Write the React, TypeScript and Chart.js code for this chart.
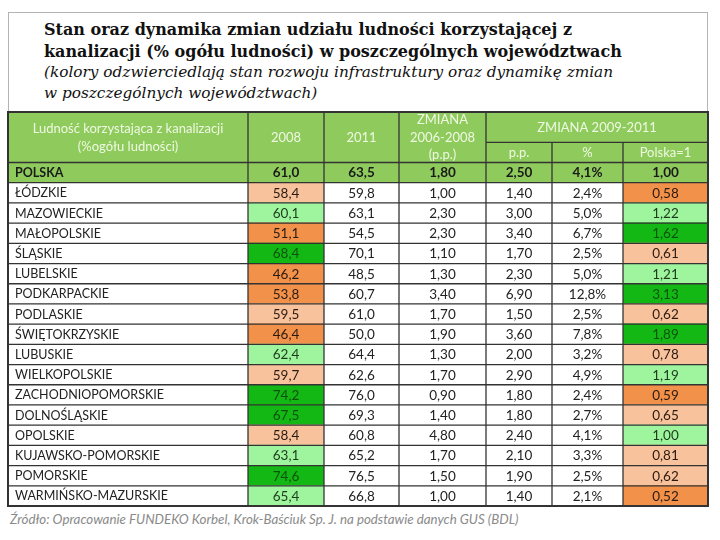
import React, { useEffect, useRef } from 'react';
import { Chart, registerables } from 'chart.js';

Chart.register(...registerables);

// ---------- data ----------
const regions = [
  'POLSKA', 'ŁÓDZKIE', 'MAZOWIECKIE', 'MAŁOPOLSKIE', 'ŚLĄSKIE', 'LUBELSKIE', 'PODKARPACKIE',
  'PODLASKIE', 'ŚWIĘTOKRZYSKIE', 'LUBUSKIE', 'WIELKOPOLSKIE', 'ZACHODNIOPOMORSKIE',
  'DOLNOŚLĄSKIE', 'OPOLSKIE', 'KUJAWSKO-POMORSKIE', 'POMORSKIE', 'WARMIŃSKO-MAZURSKIE',
];
const share2008 = [61.0, 58.4, 60.1, 51.1, 68.4, 46.2, 53.8, 59.5, 46.4, 62.4, 59.7, 74.2, 67.5, 58.4, 63.1, 74.6, 65.4];
const share2011 = [63.5, 59.8, 63.1, 54.5, 70.1, 48.5, 60.7, 61.0, 50.0, 64.4, 62.6, 76.0, 69.3, 60.8, 65.2, 76.5, 66.8];
const change0608pp = [1.8, 1.0, 2.3, 2.3, 1.1, 1.3, 3.4, 1.7, 1.9, 1.3, 1.7, 0.9, 1.4, 4.8, 1.7, 1.5, 1.0];
const change0911pp = [2.5, 1.4, 3.0, 3.4, 1.7, 2.3, 6.9, 1.5, 3.6, 2.0, 2.9, 1.8, 1.8, 2.4, 2.1, 1.9, 1.4];
const change0911pct = [4.1, 2.4, 5.0, 6.7, 2.5, 5.0, 12.8, 2.5, 7.8, 3.2, 4.9, 2.4, 2.7, 4.1, 3.3, 2.5, 2.1];
const polskaIndex = [1.0, 0.58, 1.22, 1.62, 0.61, 1.21, 3.13, 0.62, 1.89, 0.78, 1.19, 0.59, 0.65, 1.0, 0.81, 0.62, 0.52];
// colour classes: base = national row, o = orange, p = peach, l = light green, g = green
const class2008 = ['base', 'p', 'l', 'o', 'g', 'o', 'o', 'p', 'o', 'l', 'p', 'g', 'g', 'p', 'l', 'g', 'l'];
const classIndex = ['base', 'o', 'l', 'g', 'p', 'l', 'g', 'p', 'g', 'p', 'l', 'o', 'p', 'l', 'p', 'p', 'o'];

const headFirst = ['Ludność korzystająca z kanalizacji', '(%ogółu ludności)'];
const head2008 = ['2008'];
const head2011 = ['2011'];
const headChange0608 = ['ZMIANA', '2006-2008', '(p.p.)'];
const headChange0911 = ['ZMIANA 2009-2011'];
const subHeads = ['p.p.', '%', 'Polska=1'];
const sourceText = 'Źródło: Opracowanie FUNDEKO Korbel, Krok-Baściuk Sp. J. na podstawie danych GUS (BDL)';

// ---------- styles ----------
const colWidths = [240, 76, 75, 87, 66, 71, 85];
const HEADER_GREEN = '#8fcb5c';
const FILL: Record<string, string> = {
  base: HEADER_GREEN, o: '#f2914a', p: '#f8c29c', l: '#9ef59e', g: '#14b814', w: '#ffffff',
};
const TEXT_ON: Record<string, string> = {
  base: '#1a1a1a', o: '#2a1a10', p: '#2a1a10', l: '#1d3b1d', g: '#0c520c', w: '#222222',
};
const FONT = 'Lato, "Open Sans", sans-serif';

const fmt = (v: number, d: number) => v.toFixed(d).replace('.', ',');

type Cell = {
  c0: number; c1: number; s0: number; s1: number; bg: string;
  lines: string[]; color: string; font: string; align: 'left' | 'center';
};

const HEADER_SLOTS = 5; // top header 3 slots, sub header 2 slots
const ROW_SLOTS = 2;

function buildCells(): Cell[] {
  const cells: Cell[] = [];
  const hFont = `13px ${FONT}`;
  const hColor = '#eef8e2';
  const head = (c0: number, c1: number, s0: number, s1: number, lines: string[]) =>
    cells.push({ c0, c1, s0, s1, bg: HEADER_GREEN, lines, color: hColor, font: hFont, align: 'center' });
  head(0, 1, 0, 5, headFirst);
  head(1, 2, 0, 5, head2008);
  head(2, 3, 0, 5, head2011);
  head(3, 4, 0, 5, headChange0608);
  head(4, 7, 0, 3, headChange0911);
  subHeads.forEach((t, i) => head(4 + i, 5 + i, 3, 5, [t]));

  regions.forEach((name, r) => {
    const s0 = HEADER_SLOTS + r * ROW_SLOTS;
    const s1 = s0 + ROW_SLOTS;
    const isBase = r === 0;
    const nameFont = isBase ? `bold 12.5px ${FONT}` : `12.5px ${FONT}`;
    const numFont = isBase ? `bold 13.5px ${FONT}` : `13.5px ${FONT}`;
    const rowCls = isBase ? 'base' : 'w';
    const values: [string, string][] = [
      [name, rowCls],
      [fmt(share2008[r], 1), isBase ? 'base' : class2008[r]],
      [fmt(share2011[r], 1), rowCls],
      [fmt(change0608pp[r], 2), rowCls],
      [fmt(change0911pp[r], 2), rowCls],
      [fmt(change0911pct[r], 1) + '%', rowCls],
      [fmt(polskaIndex[r], 2), isBase ? 'base' : classIndex[r]],
    ];
    values.forEach(([txt, cls], c) => {
      cells.push({
        c0: c, c1: c + 1, s0, s1, bg: FILL[cls], lines: [txt], color: TEXT_ON[cls],
        font: c === 0 ? nameFont : numFont,
        align: c === 0 ? 'left' : 'center',
      });
    });
  });
  return cells;
}

export default function App() {
  const ref = useRef<HTMLCanvasElement | null>(null);

  useEffect(() => {
    document.body.style.margin = '0';
    const colX = [0];
    colWidths.forEach((w) => colX.push(colX[colX.length - 1] + w));
    const cells = buildCells();
    const totalSlots = HEADER_SLOTS + regions.length * ROW_SLOTS;
    const slotLabels = Array.from({ length: totalSlots }, (_, i) => `s${i}`);

    const data: { x: [number, number]; y: string }[] = [];
    const colors: string[] = [];
    cells.forEach((cell) => {
      for (let s = cell.s0; s < cell.s1; s++) {
        data.push({ x: [colX[cell.c0], colX[cell.c1]], y: slotLabels[s] });
        colors.push(cell.bg);
      }
    });

    const gridPlugin = {
      id: 'tableGrid',
      afterDatasetsDraw(chart: any) {
        const { ctx } = chart;
        const xs = chart.scales.x;
        const ys = chart.scales.y;
        const px = (u: number) => xs.getPixelForValue(u);
        const yb = (k: number) => ys.getPixelForValue(k - 0.5);
        ctx.save();
        ctx.strokeStyle = '#333333';
        ctx.lineWidth = 1.3;
        const hLine = (k: number, u0: number, u1: number) => {
          ctx.beginPath(); ctx.moveTo(px(u0), yb(k)); ctx.lineTo(px(u1), yb(k)); ctx.stroke();
        };
        const vLine = (u: number, k0: number, k1: number) => {
          ctx.beginPath(); ctx.moveTo(px(u), yb(k0)); ctx.lineTo(px(u), yb(k1)); ctx.stroke();
        };
        for (let r = 0; r <= regions.length; r++) {
          hLine(HEADER_SLOTS + r * ROW_SLOTS, colX[0], colX[colX.length - 1]);
        }
        hLine(3, colX[4], colX[7]);
        for (let c = 1; c < colX.length - 1; c++) {
          const top = c >= 5 ? 3 : 0;
          vLine(colX[c], top, totalSlots);
        }
        ctx.lineWidth = 2;
        ctx.strokeRect(px(colX[0]), yb(0), px(colX[7]) - px(colX[0]), yb(totalSlots) - yb(0));

        ctx.textBaseline = 'middle';
        cells.forEach((cell) => {
          ctx.font = cell.font;
          ctx.fillStyle = cell.color;
          const yTop = yb(cell.s0);
          const yBot = yb(cell.s1);
          const lh = 17.5;
          const n = cell.lines.length;
          const yc = (yTop + yBot) / 2;
          cell.lines.forEach((line, i) => {
            const y = yc + (i - (n - 1) / 2) * lh + 0.5;
            if (cell.align === 'left') {
              ctx.textAlign = 'left';
              ctx.fillText(line, px(colX[cell.c0]) + 7, y);
            } else {
              ctx.textAlign = 'center';
              ctx.fillText(line, (px(colX[cell.c0]) + px(colX[cell.c1])) / 2, y);
            }
          });
        });
        ctx.restore();
      },
    };

    const chart = new Chart(ref.current as HTMLCanvasElement, {
      type: 'bar',
      data: {
        labels: slotLabels,
        datasets: [{
          data: data as any,
          backgroundColor: colors,
          borderWidth: 0,
          barPercentage: 1,
          categoryPercentage: 1.12,
        }],
      },
      options: {
        indexAxis: 'y',
        animation: false,
        responsive: false,
        maintainAspectRatio: false,
        layout: { padding: 2 },
        plugins: { legend: { display: false }, tooltip: { enabled: false }, title: { display: false } },
        scales: {
          x: { type: 'linear', min: 0, max: colX[colX.length - 1], display: false },
          y: { type: 'category', display: false },
        },
      },
      plugins: [gridPlugin],
    });
    return () => chart.destroy();
  }, []);

  const serif = '"DejaVu Serif", "Liberation Serif", serif';
  return (
    <div style={{ position: 'absolute', left: 0, top: 0, width: 720, height: 540, background: '#ffffff', overflow: 'hidden' }}>
      <div style={{
        position: 'absolute', left: 8, top: 12, width: 698, height: 100,
        borderLeft: '1px solid #b4b4b4', borderTop: '1px solid #b4b4b4', borderRight: '1px solid #b4b4b4',
      }} />
      <div style={{ position: 'absolute', left: 44, top: 19, fontFamily: serif, color: '#111', whiteSpace: 'nowrap' }}>
        <div style={{ fontWeight: 'bold', fontSize: 16, lineHeight: '21.5px' }}>
          Stan oraz dynamika zmian udziału ludności korzystającej z<br />
          kanalizacji (% ogółu ludności) w poszczególnych województwach
        </div>
        <div style={{ fontStyle: 'italic', fontSize: 15.3, lineHeight: '21px' }}>
          (kolory odzwierciedlają stan rozwoju infrastruktury oraz dynamikę zmian<br />
          w poszczególnych województwach)
        </div>
      </div>
      <canvas ref={ref} width={704} height={398}
        style={{ position: 'absolute', left: 6, top: 110, width: 704, height: 398 }} />
      <div style={{
        position: 'absolute', left: 10, top: 510, fontFamily: FONT, fontStyle: 'italic',
        fontSize: 13.3, lineHeight: '18px', color: '#8a8a8a', whiteSpace: 'nowrap',
      }}>{sourceText}</div>
    </div>
  );
}
